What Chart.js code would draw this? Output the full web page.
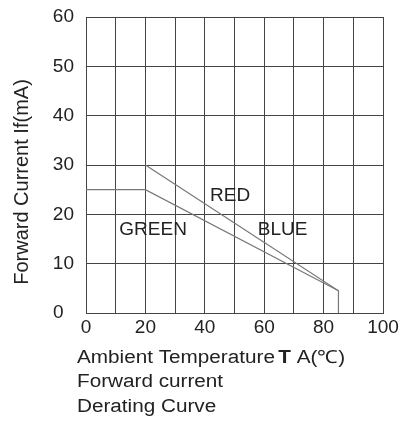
<!DOCTYPE html>
<html>
<head>
<meta charset="utf-8">
<script src="https://cdn.jsdelivr.net/npm/chart.js@4/dist/chart.umd.min.js"></script>
<style>
  html, body { margin: 0; padding: 0; background: #fff; }
  #wrap { width: 408px; height: 424px; }
</style>
</head>
<body>
<div id="wrap"><canvas id="c" width="408" height="424"></canvas></div>
<script>
// temperature (x) / current (y) points
const redTemp = [20, 85, 85]
const redCurrent = [30, 4.5, 0]
const greenTemp = [0, 20, 85]
const greenCurrent = [25, 25, 4.5]

// grid every 10, labels only on every 20 along x
const xGrid = [0, 10, 20, 30, 40, 50, 60, 70, 80, 90, 100]
const xLabels = ['0', '', '20', '', '40', '', '60', '', '80', '', '100']
const yGrid = [0, 10, 20, 30, 40, 50, 60]
const yLabels = ['0  ', '10', '20', '30', '40', '50', '60']

// curve labels, placed in data units
const curveLabels = ['RED', 'GREEN', 'BLUE']
const curveLabelTemp = [48.5, 22.6, 66.2]
const curveLabelCurrent = [23.7, 16.9, 16.9]

const yTitle = 'Forward Current If(mA)'
const captionLines = ['Forward current', 'Derating Curve']

const FONT = '"Liberation Sans", Arial, sans-serif'
const toPoints = (xs, ys) => xs.map((x, i) => ({ x, y: ys[i] }))

const textPlugin = {
  id: 'texts',
  afterDraw (chart) {
    const ctx = chart.ctx
    const xs = chart.scales.x
    const ys = chart.scales.y
    ctx.save()
    ctx.fillStyle = '#222'
    ctx.textAlign = 'center'
    ctx.textBaseline = 'middle'
    ctx.font = '19px ' + FONT
    curveLabels.forEach((t, i) => {
      ctx.fillText(t, xs.getPixelForValue(curveLabelTemp[i]), ys.getPixelForValue(curveLabelCurrent[i]))
    })

    // y axis title
    ctx.save()
    ctx.translate(22, 182)
    ctx.rotate(-Math.PI / 2)
    ctx.font = '20px ' + FONT
    ctx.fillText(yTitle, 0, 0)
    ctx.restore()

    // caption under the chart (source text looks a bit stretched sideways)
    ctx.save()
    ctx.translate(77, 0)
    ctx.scale(1.15, 1)
    ctx.textAlign = 'left'
    let x = 0
    const y0 = 358
    const parts = [['Ambient Temperature', false], ['T', true], [' A(℃)', false]]
    parts.forEach(([t, bold]) => {
      ctx.font = (bold ? 'bold ' : '') + '18px ' + FONT
      ctx.fillText(t, x, y0)
      x += ctx.measureText(t).width + (t === 'Ambient Temperature' ? 3 : 0)
    })
    ctx.font = '18px ' + FONT
    captionLines.forEach((t, i) => ctx.fillText(t, 0, y0 + 24.5 * (i + 1)))
    ctx.restore()
    ctx.restore()
  }
}

new Chart(document.getElementById('c'), {
  type: 'scatter',
  data: {
    datasets: [
      {
        label: 'RED / BLUE',
        data: toPoints(redTemp, redCurrent),
        showLine: true,
        borderColor: '#777',
        borderWidth: 1.2,
        pointRadius: 0,
        fill: false
      },
      {
        label: 'GREEN',
        data: toPoints(greenTemp, greenCurrent),
        showLine: true,
        borderColor: '#777',
        borderWidth: 1.2,
        pointRadius: 0,
        fill: false
      }
    ]
  },
  options: {
    responsive: false,
    animation: false,
    layout: { padding: { left: 0, right: 25, top: 17, bottom: 0 } },
    plugins: {
      legend: { display: false },
      tooltip: { enabled: false }
    },
    scales: {
      x: {
        type: 'linear',
        min: 0,
        max: 100,
        afterFit (scale) {
          scale.height = 111
          scale.paddingLeft = 0
          scale.paddingRight = 0
        },
        afterBuildTicks (scale) { scale.ticks = xGrid.map(v => ({ value: v })) },
        grid: {
          color: '#444',
          lineWidth: 1,
          drawTicks: false
        },
        border: { color: '#444', width: 1 },
        ticks: {
          color: '#222',
          padding: 3,
          maxRotation: 0,
          autoSkip: false,
          callback: (v, i) => xLabels[i],
          font: { family: FONT, size: 19 }
        }
      },
      y: {
        type: 'linear',
        min: 0,
        max: 60,
        afterFit (scale) {
          scale.width = 86
          scale.paddingTop = 0
          scale.paddingBottom = 0
        },
        afterBuildTicks (scale) { scale.ticks = yGrid.map(v => ({ value: v })) },
        grid: {
          color: '#444',
          lineWidth: 1,
          drawTicks: false
        },
        border: { color: '#444', width: 1 },
        ticks: {
          color: '#222',
          padding: 12,
          autoSkip: false,
          callback: (v, i) => yLabels[i],
          font: { family: FONT, size: 19 }
        }
      }
    }
  },
  plugins: [textPlugin]
})
</script>
</body>
</html>
